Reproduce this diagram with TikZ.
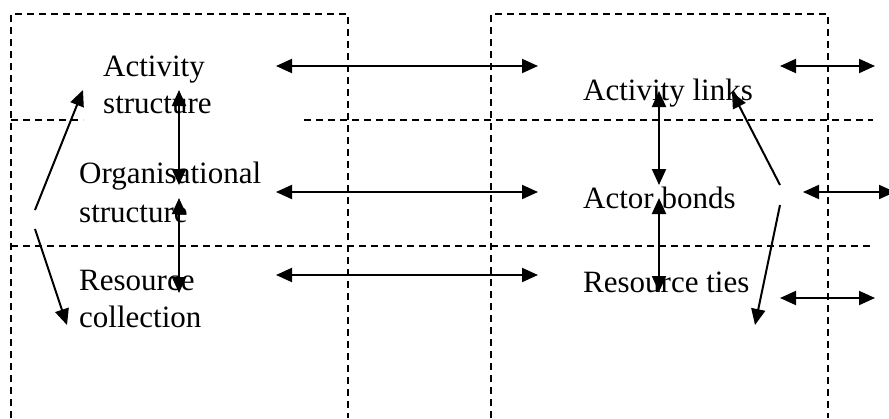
\documentclass[tikz,border=0pt]{standalone}
\usepackage{fontspec}
\setmainfont{Liberation Serif}
\usetikzlibrary{arrows.meta}
\begin{document}
\begin{tikzpicture}[x=1pt,y=-1pt,
  guide/.style={dash pattern=on 7pt off 5pt, line width=1.5pt},
  link/.style={line width=2pt, {Triangle[length=16pt,width=14pt]}-{Triangle[length=16pt,width=14pt]}},
  onehead/.style={line width=2pt, -{Triangle[length=16pt,width=14pt]}},
  lbl/.style={anchor=base west, inner sep=0pt, font=\fontsize{31}{37}\selectfont}]
\useasboundingbox (0,0) rectangle (889,418);

% dashed frames
\draw[guide] (11,418) -- (11,14) -- (348,14) -- (348,418);
\draw[guide] (491,418) -- (491,14) -- (828,14) -- (828,418);
\draw[guide] (11,120) -- (83,120);
\draw[guide] (304,120) -- (873,120);
\draw[guide] (11,246) -- (873,246);

% labels
\node[lbl] (as1) at (103,76) {Activity};
\node[lbl] (as2) at (103,113) {structure};
\node[lbl] (os1) at (79,183) {Organisational};
\node[lbl] (os2) at (79,222) {structure};
\node[lbl] (rc1) at (79,290) {Resource};
\node[lbl] (rc2) at (79,327) {collection};
\node[lbl] (al) at (583,100) {Activity links};
\node[lbl] (ab) at (583,208) {Actor bonds};
\node[lbl] (rt) at (583,292) {Resource ties};

% connector end points
\coordinate (v1a) at (179,90);  \coordinate (v1b) at (179,185);
\coordinate (v2a) at (179,198); \coordinate (v2b) at (179,293);
\coordinate (v3a) at (659,91);  \coordinate (v3b) at (659,185);
\coordinate (v4a) at (659,198); \coordinate (v4b) at (659,292);
\coordinate (h1a) at (276,66);  \coordinate (h1b) at (538,66);
\coordinate (h2a) at (276,192); \coordinate (h2b) at (538,192);
\coordinate (h3a) at (276,275); \coordinate (h3b) at (538,275);
\coordinate (s1a) at (780,66);  \coordinate (s1b) at (875,66);
\coordinate (s2a) at (803,192); \coordinate (s2b) at (895,192);
\coordinate (s3a) at (780,298); \coordinate (s3b) at (875,298);
\coordinate (dl1) at (35,210);  \coordinate (dl1t) at (83,90);
\coordinate (dl2) at (35,229);  \coordinate (dl2t) at (67,325);
\coordinate (dr1) at (780,185); \coordinate (dr1t) at (732,92);
\coordinate (dr2) at (780,205); \coordinate (dr2t) at (755,325);

% connectors
\draw[link] (v1a) -- (v1b);
\draw[link] (v2a) -- (v2b);
\draw[link] (v3a) -- (v3b);
\draw[link] (v4a) -- (v4b);
\draw[link] (h1a) -- (h1b);
\draw[link] (h2a) -- (h2b);
\draw[link] (h3a) -- (h3b);
\draw[link] (s1a) -- (s1b);
\draw[link] (s2a) -- (s2b);
\draw[link] (s3a) -- (s3b);
\draw[onehead] (dl1) -- (dl1t);
\draw[onehead] (dl2) -- (dl2t);
\draw[onehead] (dr1) -- (dr1t);
\draw[onehead] (dr2) -- (dr2t);
\end{tikzpicture}
\end{document}
